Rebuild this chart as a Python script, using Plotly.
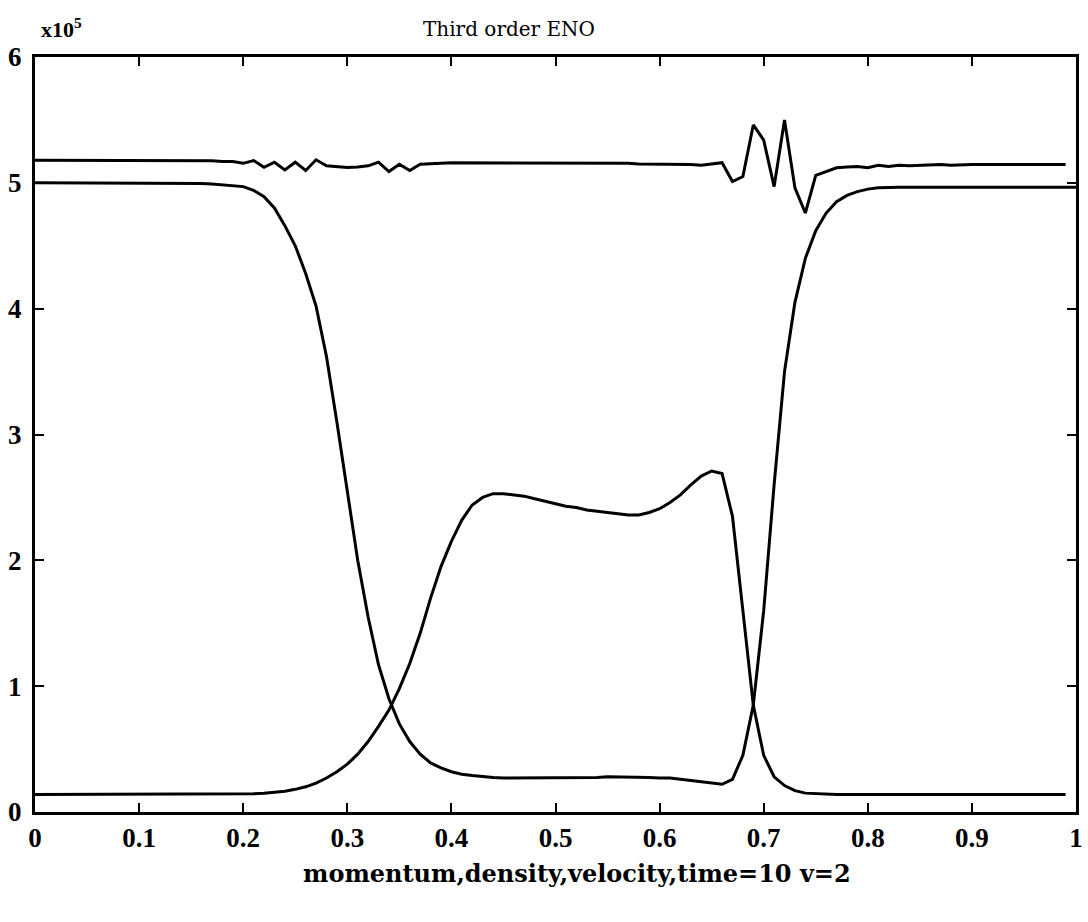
import plotly.graph_objects as go

# ---- data (y in units of 1e5) ----
x_grid = [round(i * 0.01, 2) for i in range(100)]          # 0.00 .. 0.99
x_full = [round(i * 0.01, 2) for i in range(101)]          # 0.00 .. 1.00

top_line = [
    5.18, 5.18, 5.18, 5.18, 5.18, 5.18, 5.18, 5.18, 5.18, 5.18,   # 0.00-0.09
    5.18, 5.18, 5.18, 5.18, 5.18, 5.18, 5.175, 5.175, 5.17, 5.17, # 0.10-0.19
    5.155, 5.177, 5.124, 5.164, 5.103, 5.164, 5.098, 5.183, 5.135, 5.13,  # 0.20-0.29
    5.122, 5.125, 5.135, 5.164, 5.09, 5.148, 5.098, 5.148, 5.15, 5.156,   # 0.30-0.39
    5.16, 5.16, 5.16, 5.16, 5.16, 5.16, 5.16, 5.16, 5.16, 5.16,   # 0.40-0.49
    5.16, 5.16, 5.16, 5.16, 5.16, 5.155, 5.155, 5.155, 5.15, 5.15,  # 0.50-0.59
    5.15, 5.15, 5.15, 5.145, 5.14, 5.15, 5.16, 5.01, 5.05, 5.46,  # 0.60-0.69
    5.34, 4.97, 5.50, 4.96, 4.76, 5.06, 5.09, 5.12, 5.125, 5.13,  # 0.70-0.79
    5.12, 5.14, 5.13, 5.14, 5.135, 5.14, 5.14, 5.145, 5.14, 5.145,  # 0.80-0.89
    5.145, 5.145, 5.145, 5.145, 5.145, 5.145, 5.145, 5.145, 5.145, 5.145,  # 0.90-0.99
]

curve_a = [
    5.00, 5.00, 5.00, 5.00, 5.00, 5.00, 5.00, 5.00, 5.00, 5.00,   # 0.00-0.09
    5.00, 5.00, 5.00, 5.00, 5.00, 5.00, 4.995, 4.99, 4.985, 4.98, # 0.10-0.19
    4.97, 4.94, 4.89, 4.80, 4.66, 4.50, 4.28, 4.02, 3.62, 3.10,   # 0.20-0.29
    2.55, 2.00, 1.55, 1.17, 0.90, 0.70, 0.56, 0.46, 0.39, 0.35,   # 0.30-0.39
    0.32, 0.30, 0.29, 0.28, 0.275, 0.27, 0.27, 0.27, 0.27, 0.27,  # 0.40-0.49
    0.27, 0.27, 0.27, 0.275, 0.275, 0.28, 0.28, 0.28, 0.275, 0.275,  # 0.50-0.59
    0.27, 0.27, 0.26, 0.25, 0.24, 0.23, 0.22, 0.26, 0.45, 0.85,   # 0.60-0.69
    1.60, 2.60, 3.50, 4.05, 4.40, 4.62, 4.76, 4.85, 4.90, 4.93,   # 0.70-0.79
    4.95, 4.96, 4.965, 4.965, 4.965, 4.965, 4.965, 4.965, 4.965, 4.965,  # 0.80-0.89
    4.965, 4.965, 4.965, 4.965, 4.965, 4.965, 4.965, 4.965, 4.965, 4.965,  # 0.90-0.99
    4.965,                                                          # 1.00
]

curve_b = [
    0.14, 0.14, 0.14, 0.14, 0.14, 0.14, 0.14, 0.14, 0.14, 0.14,   # 0.00-0.09
    0.14, 0.14, 0.14, 0.14, 0.14, 0.14, 0.14, 0.14, 0.14, 0.14,   # 0.10-0.19
    0.14, 0.145, 0.15, 0.155, 0.165, 0.18, 0.20, 0.23, 0.27, 0.32,  # 0.20-0.29
    0.38, 0.46, 0.56, 0.68, 0.81, 0.98, 1.18, 1.42, 1.70, 1.95,   # 0.30-0.39
    2.15, 2.32, 2.44, 2.50, 2.53, 2.53, 2.52, 2.51, 2.49, 2.47,   # 0.40-0.49
    2.45, 2.43, 2.42, 2.40, 2.39, 2.38, 2.37, 2.36, 2.36, 2.38,   # 0.50-0.59
    2.41, 2.46, 2.52, 2.60, 2.67, 2.71, 2.69, 2.35, 1.60, 0.85,   # 0.60-0.69
    0.45, 0.28, 0.21, 0.17, 0.15, 0.145, 0.14, 0.14, 0.14, 0.14,  # 0.70-0.79
    0.14, 0.14, 0.14, 0.14, 0.14, 0.14, 0.14, 0.14, 0.14, 0.14,   # 0.80-0.89
    0.14, 0.14, 0.14, 0.14, 0.14, 0.14, 0.14, 0.14, 0.14, 0.14,   # 0.90-0.99
]

x_tick_vals = [round(i * 0.1, 1) for i in range(11)]
x_tick_text = ["0", "0.1", "0.2", "0.3", "0.4", "0.5", "0.6", "0.7", "0.8", "0.9", "1"]
y_tick_vals = [0, 1, 2, 3, 4, 5, 6]
y_tick_text = ["0", "1", "2", "3", "4", "5", "6"]

title_text = "Third order ENO"
xlabel_text = "momentum,density,velocity,time=10 v=2"
scale_text = "x10<sup>5</sup>"

# ---- figure ----
fig = go.Figure()
line_style = dict(color="black", width=3)
fig.add_trace(go.Scatter(x=x_grid, y=top_line, mode="lines", line=line_style, showlegend=False))
fig.add_trace(go.Scatter(x=x_full, y=curve_a, mode="lines", line=line_style, showlegend=False))
fig.add_trace(go.Scatter(x=x_grid, y=curve_b, mode="lines", line=line_style, showlegend=False))

tick_font = dict(family="Liberation Serif", size=27, color="black", weight="bold")
axis_common = dict(
    showgrid=False, zeroline=False, showline=True, linecolor="black", linewidth=3,
    mirror="ticks", ticks="inside", ticklen=9, tickwidth=2, tickcolor="black",
    tickfont=tick_font,
)

fig.update_layout(
    width=1088, height=922,
    margin=dict(l=35, r=5, t=57, b=110),
    paper_bgcolor="white", plot_bgcolor="white",
    xaxis=dict(range=[0, 1], tickvals=x_tick_vals, ticktext=x_tick_text,
               ticklabelstandoff=0, **axis_common),
    yaxis=dict(range=[0, 6], tickvals=y_tick_vals, ticktext=y_tick_text,
               ticklabelstandoff=5, **axis_common),
    annotations=[
        dict(text=title_text, xref="paper", yref="paper", x=0.455, y=1.037,
             xanchor="center", yanchor="middle", showarrow=False,
             font=dict(family="DejaVu Serif", size=20, color="black")),
        dict(text=scale_text, xref="paper", yref="paper", x=0.004, y=1.038,
             xanchor="left", yanchor="middle", showarrow=False,
             font=dict(family="Liberation Serif", size=22, color="black", weight="bold")),
        dict(text=xlabel_text, xref="paper", yref="paper", x=0.521, y=-0.082,
             xanchor="center", yanchor="middle", showarrow=False,
             font=dict(family="DejaVu Serif", size=24, color="black", weight="bold")),
    ],
)

fig.write_html("out.html")
